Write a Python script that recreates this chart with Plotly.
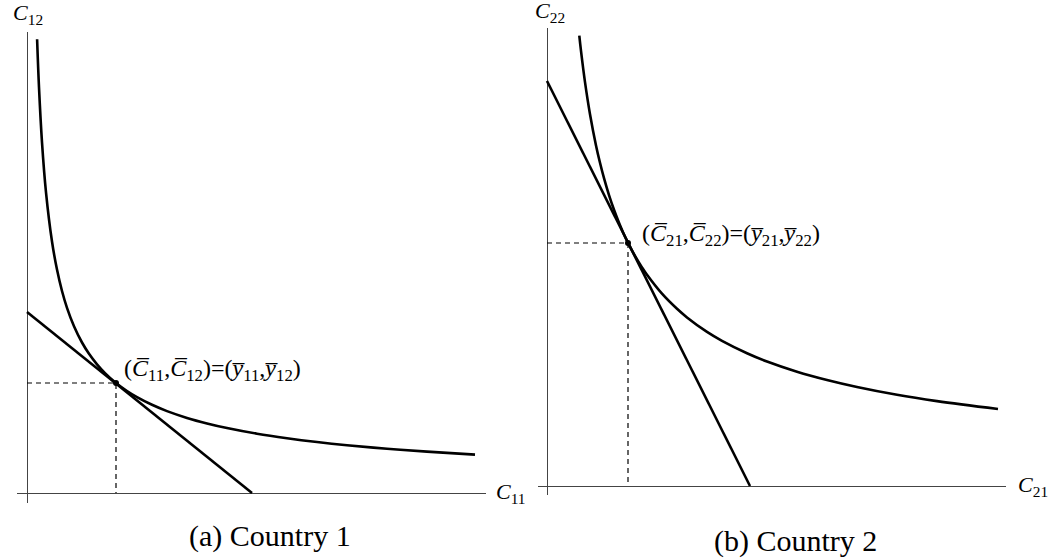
import plotly.graph_objects as go

# ---- data (units: arbitrary consumption units) ----
# Country 1 indifference curve
c1_x = [0.101, 0.12, 0.15, 0.19, 0.25, 0.30, 0.35, 0.40, 0.47, 0.55, 0.62, 0.70, 0.78, 0.89, 1.00,
        1.10, 1.25, 1.40, 1.60, 1.80, 2.00, 2.30, 2.60, 2.90, 3.20, 3.60, 4.00, 4.48]
c1_y = [4.537, 4.056, 3.507, 3.007, 2.515, 2.234, 2.020, 1.852, 1.668, 1.505, 1.392, 1.287, 1.199,
        1.100, 1.020, 0.959, 0.882, 0.819, 0.751, 0.696, 0.650, 0.593, 0.548, 0.510, 0.478, 0.443,
        0.414, 0.384]
# Country 1 budget line (intercepts)
c1_line_x = [0.0, 2.25]
c1_line_y = [1.81, 0.0]
# Country 1 equilibrium point
c1_pt = (0.89, 1.10)

# Country 2 indifference curve
c2_x = [0.323, 0.34, 0.38, 0.43, 0.49, 0.53, 0.57, 0.62, 0.67, 0.72, 0.76, 0.81, 0.88, 0.95, 1.00,
        1.15, 1.30, 1.40, 1.60, 1.75, 2.00, 2.20, 2.50, 2.80, 3.10, 3.50, 3.90, 4.51]
c2_y = [4.503, 4.351, 4.039, 3.718, 3.406, 3.232, 3.078, 2.909, 2.762, 2.632, 2.538, 2.432, 2.301,
        2.186, 2.112, 1.923, 1.772, 1.686, 1.541, 1.452, 1.328, 1.245, 1.143, 1.060, 0.990, 0.912,
        0.849, 0.770]
# Country 2 budget line
c2_line_x = [0.0, 2.03]
c2_line_y = [4.05, 0.0]
c2_pt = (0.81, 2.43)

W, H = 1057, 558
SERIF = "Liberation Serif, Times New Roman, serif"
OV = "\u0305"  # combining overline

fig = go.Figure()

def add_panel(xs, ys, lx, ly, pt, xa, ya):
    kw = dict(xaxis=xa, yaxis=ya, showlegend=False, hoverinfo="skip")
    fig.add_trace(go.Scatter(x=xs, y=ys, mode="lines",
                             line=dict(color="black", width=2.6, shape="spline", smoothing=1.0), **kw))
    fig.add_trace(go.Scatter(x=lx, y=ly, mode="lines", line=dict(color="black", width=2.6), **kw))
    px, py = pt
    fig.add_trace(go.Scatter(x=[0, px, px], y=[py, py, 0], mode="lines",
                             line=dict(color="black", width=1.2, dash="5px,4px"), **kw))
    fig.add_trace(go.Scatter(x=[px], y=[py], mode="markers", marker=dict(color="black", size=6), **kw))

add_panel(c1_x, c1_y, c1_line_x, c1_line_y, c1_pt, "x", "y")
add_panel(c2_x, c2_y, c2_line_x, c2_line_y, c2_pt, "x2", "y2")

def ax(rng, dom):
    return dict(range=rng, domain=dom, showgrid=False, showticklabels=False, ticks="",
                zeroline=True, zerolinecolor="#444", zerolinewidth=1.1, showline=False,
                fixedrange=True)

fig.update_layout(
    width=W, height=H, margin=dict(l=0, r=0, t=0, b=0),
    paper_bgcolor="white", plot_bgcolor="white",
    xaxis=ax([-0.10, 4.59], [17 / W, 486 / W]),
    yaxis=ax([-0.10, 4.61], [1 - 503 / H, 1 - 32 / H]),
    xaxis2=ax([-0.09, 4.59], [538 / W, 1006 / W]),
    yaxis2=ax([-0.09, 4.58], [1 - 495 / H, 1 - 28 / H]),
)

def pann(text, x, y, size, xanchor="center"):
    fig.add_annotation(text=text, x=x / W, y=1 - y / H, xref="paper", yref="paper",
                       showarrow=False, xanchor=xanchor, yanchor="middle",
                       font=dict(family=SERIF, size=size, color="black"))

# axis labels
pann("<i>C</i><sub>12</sub>", 28, 14, 22)
pann("<i>C</i><sub>22</sub>", 550, 12, 22)
pann("<i>C</i><sub>11</sub>", 494, 493, 22, "left")
pann("<i>C</i><sub>21</sub>", 1016, 486, 22, "left")

# captions
pann("(a) Country 1", 270, 536, 30)
pann("(b) Country 2", 795, 541, 30)

# point labels
lab1 = f"(<i>C{OV}</i><sub>11</sub>,<i>C{OV}</i><sub>12</sub>)=(<i>y{OV}</i><sub>11</sub>,<i>y{OV}</i><sub>12</sub>)"
lab2 = f"(<i>C{OV}</i><sub>21</sub>,<i>C{OV}</i><sub>22</sub>)=(<i>y{OV}</i><sub>21</sub>,<i>y{OV}</i><sub>22</sub>)"
fig.add_annotation(text=lab1, x=0.95, y=1.23, xref="x", yref="y", showarrow=False,
                   xanchor="left", yanchor="middle", font=dict(family=SERIF, size=24, color="black"))
fig.add_annotation(text=lab2, x=0.93, y=2.51, xref="x2", yref="y2", showarrow=False,
                   xanchor="left", yanchor="middle", font=dict(family=SERIF, size=24, color="black"))

fig.write_html("out.html", config={"displayModeBar": False},
               post_script="document.body.style.margin='0';document.body.style.overflow='hidden';")
